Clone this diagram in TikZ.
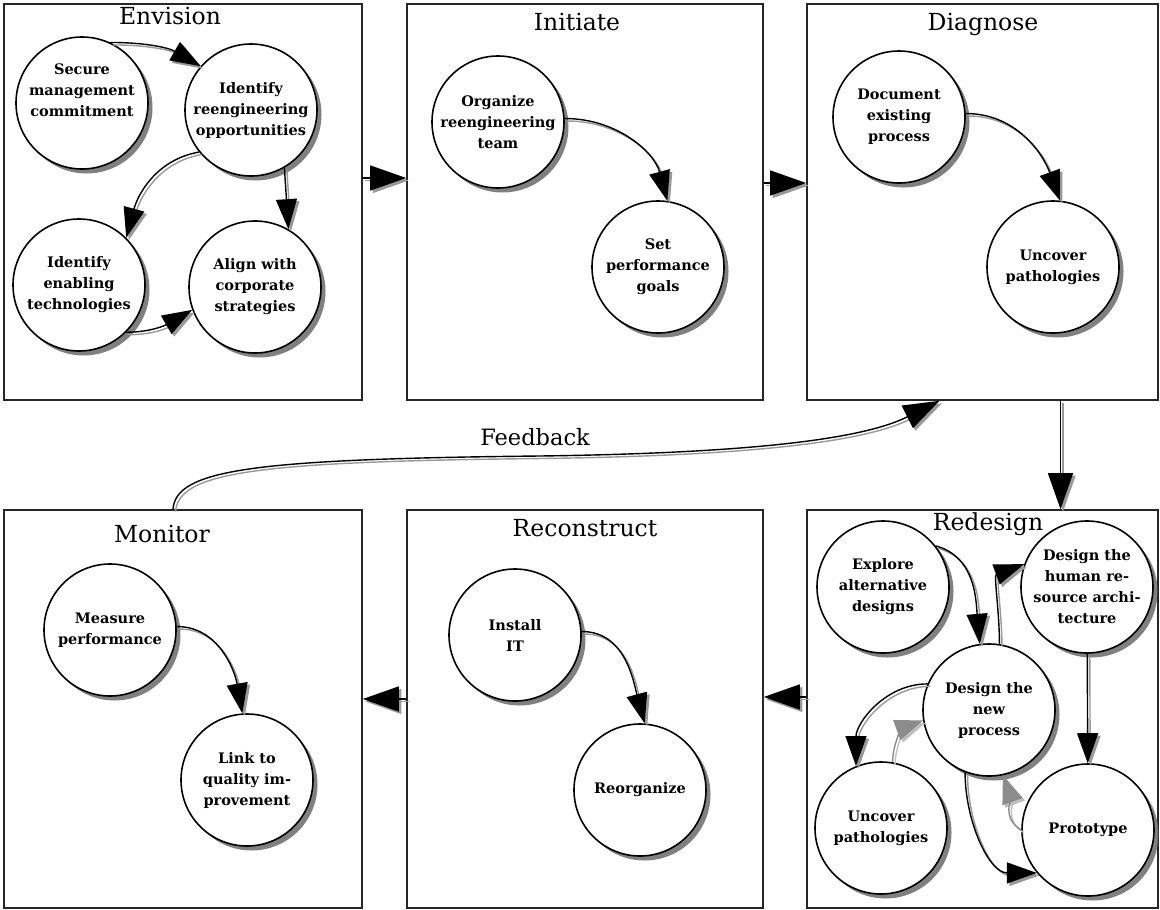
\documentclass[tikz,border=0pt]{standalone}
\usepackage{fontspec}
\setmainfont{DejaVu Serif}
\usetikzlibrary{arrows.meta,shadows}
\begin{document}
\begin{tikzpicture}[x=1pt,y=1pt,
  stage/.style={draw=black!85, line width=1.6pt, minimum height=396pt, inner sep=0pt},
  ttl/.style={font=\fontsize{23.5}{26}\selectfont, inner sep=0pt},
  proc/.style={circle, draw, line width=1.6pt, fill=white, minimum size=132pt, inner sep=0pt,
    align=center, font=\bfseries\fontsize{14.5}{21}\selectfont,
    drop shadow={shadow xshift=4.5pt, shadow yshift=-4.5pt, fill=black!55, opacity=0.9}},
  flow/.style={line width=1.4pt, -{Triangle[length=30pt,width=21pt]},
    preaction={draw=black!40, line width=1.4pt, transform canvas={xshift=2.5pt,yshift=-2.5pt}}},
  bigflow/.style={line width=1.4pt, -{Triangle[length=36pt,width=25pt]},
    preaction={draw=black!40, line width=1.4pt, transform canvas={xshift=2.5pt,yshift=-2.5pt}}},
  gflow/.style={line width=1.4pt, draw=black!45, -{Triangle[length=28pt,width=21pt]},
    preaction={draw=black!25, line width=1.4pt, transform canvas={xshift=2.5pt,yshift=-2.5pt}}},
]
\fill[white] (0,0) rectangle (1160,-910);
\useasboundingbox (0,0) rectangle (1160,-910);

% stage boxes
\node[stage, minimum width=358pt] (envbox) at (183,-202) {};
\node[stage, minimum width=356pt] (inibox) at (585,-202) {};
\node[stage, minimum width=351pt] (diabox) at (982.5,-202) {};
\node[stage, minimum width=358pt, minimum height=398pt] (monbox) at (183,-709) {};
\node[stage, minimum width=356pt, minimum height=398pt] (recbox) at (585,-709) {};
\node[stage, minimum width=351pt, minimum height=398pt] (redbox) at (982.5,-709) {};

% titles
\node[ttl] (tenv) at (170,-16) {Envision};
\node[ttl] (tini) at (577,-22) {Initiate};
\node[ttl] (tdia) at (983,-24) {Diagnose};
\node[ttl] (tmon) at (162,-534) {Monitor};
\node[ttl] (trec) at (585,-528) {Reconstruct};
\node[ttl] (tred) at (988,-524) {Redesign};

% Envision
\node[proc] (sec) at (82,-103) {Secure\\management\\commitment\\[4pt]};
\node[proc] (idr) at (251,-110) {Identify\\reengineering\\opportunities};
\node[proc] (ide) at (79,-285) {Identify\\enabling\\technologies};
\node[proc] (aln) at (255,-287) {Align with\\corporate\\strategies};
% Initiate
\node[proc] (org) at (498,-122) {Organize\\reengineering\\team};
\node[proc] (spg) at (658,-267) {Set\\performance\\goals};
% Diagnose
\node[proc] (doc) at (899,-117) {Document\\existing\\process};
\node[proc] (dunc) at (1053,-267) {Uncover\\pathologies};
% Monitor
\node[proc] (mea) at (110,-630) {Measure\\performance};
\node[proc] (lnk) at (247,-780) {Link to\\quality im-\\provement};
% Reconstruct
\node[proc] (ins) at (515,-635) {Install\\IT};
\node[proc] (reo) at (640,-790) {Reorganize};
% Redesign
\node[proc] (exp) at (883,-587) {Explore\\alternative\\designs};
\node[proc] (hum) at (1087,-587) {Design the\\human re-\\source archi-\\tecture};
\node[proc] (dnp) at (989,-710) {Design the\\new\\process};
\node[proc] (runc) at (881,-828) {Uncover\\pathologies};
\node[proc] (pro) at (1088,-830) {Prototype};

% arrows inside stages
\draw[flow] (sec.65) to[out=0,in=150] (idr.139);
\draw[flow] (idr.219) to[out=190,in=75] (ide.45);
\draw[flow] (idr.300) -- (aln.60);
\draw[flow] (ide.315) to[out=0,in=210] (aln.200);
\draw[flow] (org.3) to[out=0,in=105] (spg.82);
\draw[flow] (doc.3) to[out=0,in=110] (dunc.84);
\draw[flow] (mea.3) to[out=0,in=100] (lnk.94);
\draw[flow] (ins.3) to[out=0,in=105] (reo.86);
\draw[flow] (exp.38) to[out=-15,in=95] (dnp.98);
\draw[flow] (dnp.81) to[out=90,in=200] (hum.160);
\draw[flow] (hum) -- (pro);
\draw[flow] (dnp.157) to[out=180,in=90] (runc.112);
\draw[gflow] (runc.80) to[out=90,in=200] (dnp.189);
\draw[flow] (dnp.249) to[out=270,in=180] (pro.220);
\draw[gflow] (pro.180) to[out=150,in=-70] (dnp.282);

% arrows between stages
\draw[bigflow] ([yshift=24pt]envbox.east) -- ([yshift=24pt]inibox.west);
\draw[bigflow] ([yshift=19pt]inibox.east) -- ([yshift=19pt]diabox.west);
\draw[bigflow] ([xshift=78pt]diabox.south) -- ([xshift=78pt]redbox.north);
\draw[bigflow] ([yshift=12pt]redbox.west) -- ([yshift=12pt]recbox.east);
\draw[bigflow] ([yshift=10pt]recbox.west) -- ([yshift=10pt]monbox.east);

% feedback
\coordinate (fbm) at (540,-456);
\node[font=\fontsize{22.5}{25}\selectfont, inner sep=0pt] (fbl) at (535,-437) {Feedback};
\draw[bigflow] ([xshift=-10pt]monbox.north) .. controls (176,-470) and (250,-459) .. (fbm)
  .. controls (760,-453) and (865,-438) .. ([xshift=-43pt]diabox.south);
\end{tikzpicture}
\end{document}
